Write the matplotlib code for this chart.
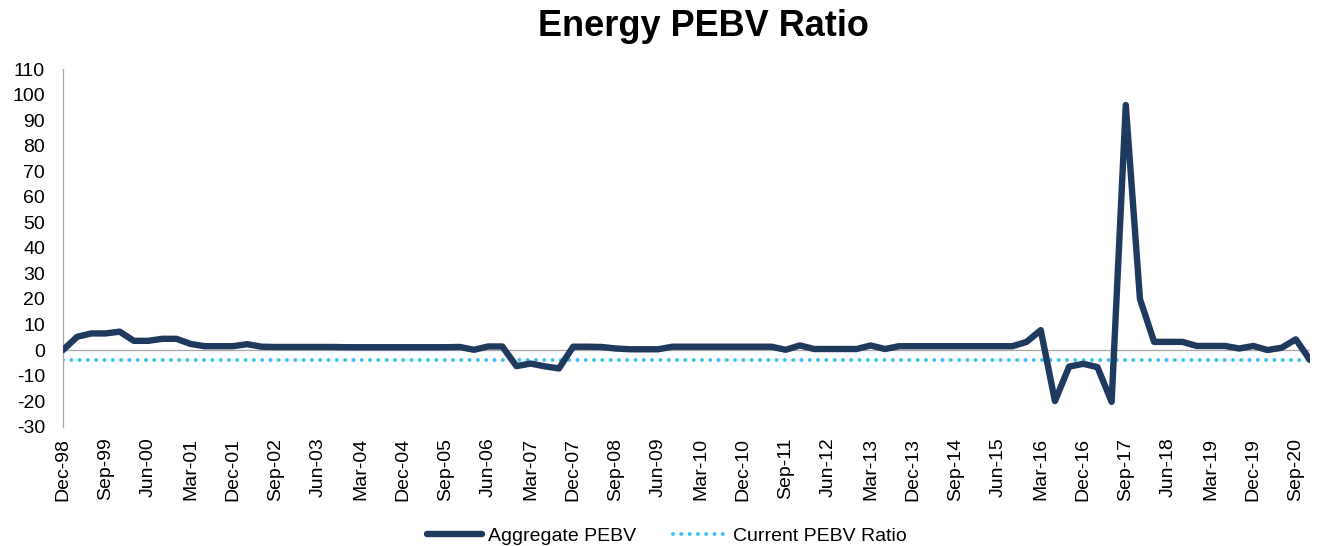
import numpy as np
import pandas as pd
from matplotlib import pyplot as plt

plt.rcParams["font.family"] = ["Liberation Sans", "DejaVu Sans"]
plt.rcParams["axes.unicode_minus"] = False

# quarterly dates, Dec-98 .. Dec-20
quarters = pd.date_range("1998-12-01", periods=89, freq="3MS").strftime("%b-%y").tolist()

aggregate_pebv = [
    0.0, 5.2, 6.5, 6.5, 7.2, 3.6, 3.6, 4.4, 4.4, 2.4,
    1.5, 1.5, 1.5, 2.3, 1.3, 1.2, 1.2, 1.2, 1.2, 1.2,
    1.1, 1.1, 1.1, 1.1, 1.1, 1.1, 1.1, 1.1, 1.2, 0.1,
    1.4, 1.4, -6.3, -5.3, -6.4, -7.2, 1.3, 1.3, 1.2, 0.6,
    0.3, 0.3, 0.3, 1.3, 1.3, 1.3, 1.3, 1.3, 1.3, 1.3,
    1.3, 0.1, 1.8, 0.4, 0.4, 0.4, 0.4, 1.8, 0.4, 1.5,
    1.5, 1.5, 1.5, 1.5, 1.5, 1.5, 1.5, 1.5, 3.2, 7.8,
    -20.0, -6.5, -5.4, -6.7, -20.3, 96.0, 20.0, 3.2, 3.2, 3.2,
    1.6, 1.6, 1.6, 0.6, 1.6, 0.0, 0.9, 4.2, -3.9,
]
current_pebv = -3.9

navy = "#1f3a5f"
sky = "#3ec3f5"
grey = "#a6a6a6"

fig = plt.figure(figsize=(13.17, 5.46), dpi=100)
ax = fig.add_axes([63 / 1317, 1 - 426.6 / 546, (1310 - 63) / 1317, (426.6 - 69.3) / 546])

x = np.arange(len(quarters))
ax.plot(x, aggregate_pebv, color=navy, lw=4.6, solid_joinstyle="round",
        solid_capstyle="round", label="Aggregate PEBV", zorder=3)
ax.plot(x, [current_pebv] * len(x), color=sky, lw=2.9,
        linestyle=(0, (0.01, 2.05)), dash_capstyle="round",
        label="Current PEBV Ratio", zorder=2)
ax.axhline(0, color=grey, lw=0.9, zorder=1)

ax.set_xlim(0, len(x) - 1)
ax.set_ylim(-30, 110)
ax.set_yticks(range(-30, 111, 10))
ax.set_xticks(x[::3])
ax.set_xticklabels(quarters[::3], rotation=90)

for side in ["top", "right", "bottom"]:
    ax.spines[side].set_visible(False)
ax.spines["left"].set_color(grey)
ax.spines["left"].set_linewidth(0.9)
ax.tick_params(axis="both", length=0, labelsize=14, colors="black")
ax.tick_params(axis="y", pad=13)
ax.tick_params(axis="x", pad=8)

fig.text(703 / 1317, 1 - 27 / 546, "Energy PEBV Ratio", ha="center", va="center",
         fontsize=26, fontweight="bold")

fig.legend(loc="center", bbox_to_anchor=(667 / 1317, 1 - 536 / 546), ncol=2,
           frameon=False, fontsize=14, handlelength=2.8, handletextpad=0.3,
           columnspacing=1.9)

fig.savefig("out.png", dpi=100)
